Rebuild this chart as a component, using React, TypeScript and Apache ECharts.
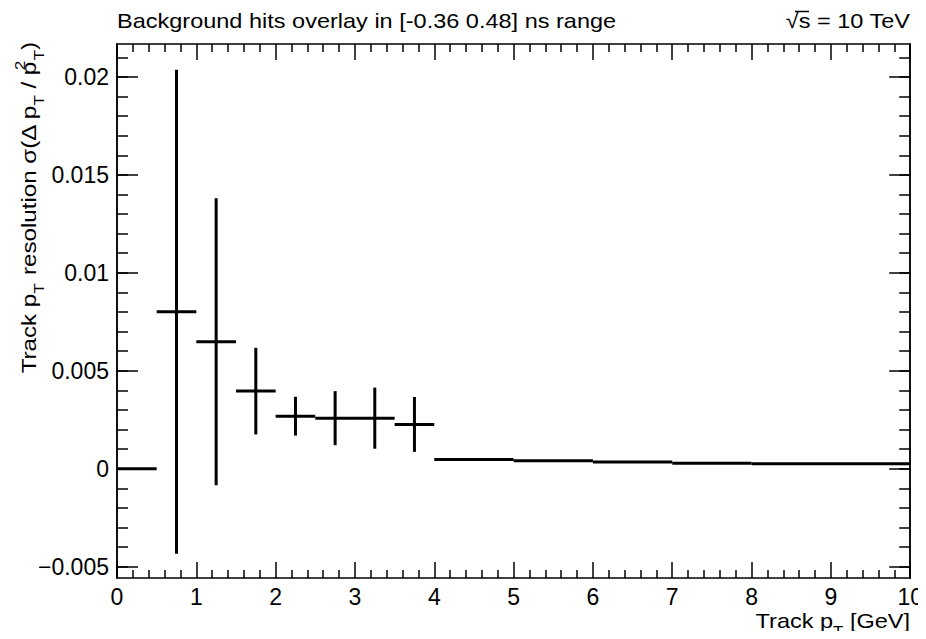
import React, { useEffect, useRef } from 'react';
import * as echarts from 'echarts';

// ---- data ----
const binLow = [0, 0.5, 1.0, 1.5, 2.0, 2.5, 3.0, 3.5, 4, 5, 6, 7, 8];
const binHigh = [0.5, 1.0, 1.5, 2.0, 2.5, 3.0, 3.5, 4.0, 5, 6, 7, 8, 10];
const values = [0, 0.00801, 0.00648, 0.00396, 0.00268, 0.00258, 0.00258, 0.00226, 0.00047, 0.00041, 0.00034, 0.00028, 0.00025];
const errors = [0, 0.01235, 0.00733, 0.00221, 0.00099, 0.00138, 0.00156, 0.0014, 0, 0, 0, 0, 0];

const xTickLabels = ['0', '1', '2', '3', '4', '5', '6', '7', '8', '9', '10'];
const yMajorTicks = [-0.005, 0, 0.005, 0.01, 0.015, 0.02];
const yMajorLabels = ['\u22120.005', '0', '0.005', '0.01', '0.015', '0.02'];
const yMinorTicks = [
  -0.005, -0.004, -0.003, -0.002, -0.001, 0, 0.001, 0.002, 0.003, 0.004, 0.005,
  0.006, 0.007, 0.008, 0.009, 0.01, 0.011, 0.012, 0.013, 0.014, 0.015, 0.016,
  0.017, 0.018, 0.019, 0.02, 0.021,
];

const X_MIN = 0;
const X_MAX = 10;
const Y_MIN = -0.00558;
const Y_MAX = 0.02168;

const FONT = '"Liberation Sans", Arial, Helvetica, sans-serif';

function yLabel(v: number): string {
  let best = 0;
  for (let i = 0; i < yMajorTicks.length; i++) {
    if (Math.abs(yMajorTicks[i] - v) < Math.abs(yMajorTicks[best] - v)) best = i;
  }
  return yMajorLabels[best];
}

export default function App() {
  const ref = useRef<HTMLDivElement>(null);

  useEffect(() => {
    if (!ref.current) return;
    const chart = echarts.init(ref.current, null, { renderer: 'svg' });

    const lineStyle = { color: '#000', width: 1.5 };

    const xAxisBase = (pos: 'top' | 'bottom', showLabel: boolean) => ({
      type: 'value' as const,
      position: pos,
      min: X_MIN,
      max: X_MAX,
      interval: 1,
      axisLine: { show: true, onZero: false, lineStyle },
      axisTick: { show: true, inside: true, length: 16, lineStyle },
      minorTick: { show: true, splitNumber: 5, length: 8, lineStyle },
      splitLine: { show: false },
      minorSplitLine: { show: false },
      axisLabel: showLabel
        ? {
            show: true,
            fontSize: 23,
            fontFamily: FONT,
            color: '#000',
            margin: 7,
            formatter: (v: number) => xTickLabels[Math.round(v)] ?? String(v),
          }
        : { show: false },
    });

    const yAxisBase = (pos: 'left' | 'right', ticks: number[], len: number, showLabel: boolean) => ({
      type: 'value' as const,
      position: pos,
      min: Y_MIN,
      max: Y_MAX,
      axisLine: { show: true, onZero: false, lineStyle },
      axisTick: { show: true, inside: true, length: len, customValues: ticks, lineStyle },
      splitLine: { show: false },
      axisLabel: showLabel
        ? {
            show: true,
            customValues: yMajorTicks,
            fontSize: 23,
            fontFamily: FONT,
            color: '#000',
            margin: 8,
            formatter: (v: number) => yLabel(v),
          }
        : { show: false },
    });

    const data = binLow.map((lo, i) => [lo, binHigh[i], values[i], errors[i]]);

    const sub = { fontSize: 15, fontFamily: FONT, fill: '#000', verticalAlign: 'bottom' };
    const sup = { fontSize: 15, fontFamily: FONT, fill: '#000', verticalAlign: 'top', width: 1 };

    chart.setOption({
      animation: false,
      backgroundColor: '#fff',
      grid: { left: 117, right: 15, top: 44, bottom: 61, containLabel: false },
      xAxis: [xAxisBase('bottom', true), xAxisBase('top', false)],
      yAxis: [
        yAxisBase('left', yMajorTicks, 21, true),
        yAxisBase('left', yMinorTicks, 11, false),
        yAxisBase('right', yMajorTicks, 21, false),
        yAxisBase('right', yMinorTicks, 11, false),
      ],
      series: [
        {
          type: 'custom',
          xAxisIndex: 0,
          yAxisIndex: 0,
          clip: true,
          encode: { x: [0, 1], y: [2] },
          data,
          renderItem: (params: any, api: any) => {
            const lo = api.value(0);
            const hi = api.value(1);
            const v = api.value(2);
            const e = api.value(3);
            const p1 = api.coord([lo, v]);
            const p2 = api.coord([hi, v]);
            const st = { stroke: '#000', lineWidth: 3 };
            const children: any[] = [
              { type: 'line', shape: { x1: p1[0], y1: p1[1], x2: p2[0], y2: p2[1] }, style: st },
            ];
            if (e > 0) {
              const c = (lo + hi) / 2;
              const t = api.coord([c, v + e]);
              const b = api.coord([c, v - e]);
              children.push({ type: 'line', shape: { x1: t[0], y1: t[1], x2: b[0], y2: b[1] }, style: st });
            }
            return { type: 'group', children };
          },
        },
      ],
      graphic: [
        {
          type: 'text',
          x: 117,
          y: 21,
          scaleX: 1.12,
          style: {
            text: 'Background hits overlay in [-0.36 0.48] ns range',
            fontSize: 21,
            fontFamily: FONT,
            fill: '#000',
            align: 'left',
            verticalAlign: 'middle',
          },
        },
        {
          type: 'text',
          x: 910,
          y: 21,
          scaleX: 1.12,
          style: {
            text: '\u221As = 10 TeV',
            fontSize: 21,
            fontFamily: FONT,
            fill: '#000',
            align: 'right',
            verticalAlign: 'middle',
          },
        },
        {
          type: 'line',
          shape: { x1: 795, y1: 11.5, x2: 809, y2: 11.5 },
          style: { stroke: '#000', lineWidth: 1.5 },
        },
        {
          type: 'text',
          x: 910,
          y: 621,
          scaleX: 1.12,
          style: {
            text: 'Track p{sub|T} [GeV]',
            fontSize: 21,
            fontFamily: FONT,
            fill: '#000',
            align: 'right',
            verticalAlign: 'middle',
            lineHeight: 34,
            rich: { sub },
          },
        },
        {
          type: 'text',
          x: 29,
          y: 42,
          rotation: Math.PI / 2,
          scaleX: 1.15,
          style: {
            text: 'Track p{sub|T} resolution \u03C3(\u0394 p{sub|T} / p{sup|2}{sub|T})',
            fontSize: 21,
            fontFamily: FONT,
            fill: '#000',
            align: 'right',
            verticalAlign: 'middle',
            lineHeight: 34,
            rich: { sub, sup },
          },
        },
      ],
    });

    return () => chart.dispose();
  }, []);

  return <div ref={ref} style={{ width: 926, height: 639, margin: -8 }} />;
}
